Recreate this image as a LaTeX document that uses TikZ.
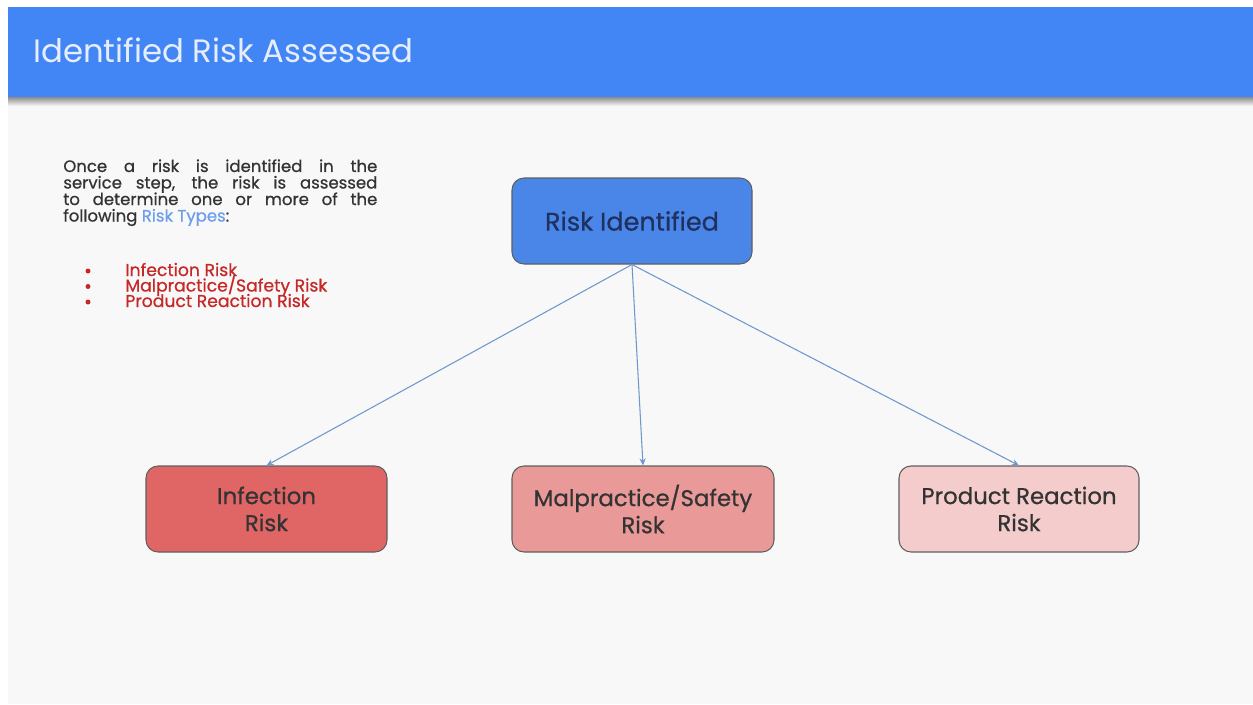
\documentclass[tikz,border=0pt]{standalone}
\usepackage{fontspec}
\setmainfont{Poppins}
\newfontfamily\medfont{Poppins}[FakeBold=0.7]
\usetikzlibrary{arrows.meta}

\definecolor{barblue}{HTML}{4285F4}
\definecolor{pagegray}{HTML}{F8F8F8}
\definecolor{titlewhite}{HTML}{E6EEFB}
\definecolor{bodytext}{HTML}{333333}
\definecolor{typeblue}{HTML}{6D9EEB}
\definecolor{itemred}{HTML}{C62828}
\definecolor{boxblue}{HTML}{4A86E8}
\definecolor{navytext}{HTML}{1F3160}
\definecolor{redA}{HTML}{E06666}
\definecolor{redB}{HTML}{EA9999}
\definecolor{redC}{HTML}{F4CCCC}
\definecolor{edgegray}{HTML}{5F5F5F}
\definecolor{arrowblue}{HTML}{6F97CF}

\tikzset{
  riskbox/.style={rectangle, rounded corners=0.24cm, draw=edgegray, line width=0.6pt,
    minimum height=1.72cm, align=center, text=bodytext,
    font=\medfont\fontsize{13}{15.4}\selectfont},
  riskarrow/.style={-{Stealth[length=4pt,width=3.5pt]}, draw=arrowblue, line width=0.6pt},
  redtext/.style={anchor=base west, text=itemred, inner sep=0pt,
    font=\medfont\fontsize{9.8}{9}\selectfont},
  reddot/.style={circle, fill=itemred, inner sep=0pt, minimum size=0.1cm}
}

\begin{document}
\begin{tikzpicture}

\useasboundingbox (0,0) rectangle (25.06,-14.08);
\fill [pagegray] (0.16,-0.14) rectangle (25.06,-14.08);
\shade [top color=black!45, bottom color=pagegray] (0.16,-1.94) rectangle (25.06,-2.12);
\fill [barblue] (0.16,-0.14) rectangle (25.06,-1.94);

\node [anchor=base west, inner sep=0pt, text=titlewhite, font=\fontsize{18.4}{20}\selectfont] (title) at (0.66,-1.24) {Identified Risk Assessed};

\node [anchor=north west, inner sep=0pt, text width=6.28cm, align=justify, text=bodytext,
  font={\medfont\fontsize{9.4}{9.4}\selectfont\setlength{\lineskiplimit}{-20pt}}] (intro) at (1.26,-3.18)
  {Once a risk is identified in the\linebreak service step, the risk is assessed\linebreak to determine one or more of the\linebreak following \textcolor{typeblue}{Risk Types}:};

\node [reddot] (dot1) at (1.76,-5.42) {};
\node [reddot] (dot2) at (1.76,-5.73) {};
\node [reddot] (dot3) at (1.76,-6.04) {};
\node [redtext] (item1) at (2.5,-5.52) {Infection Risk};
\node [redtext] (item2) at (2.5,-5.83) {Malpractice/Safety Risk};
\node [redtext] (item3) at (2.5,-6.14) {Product Reaction Risk};

\node [riskbox, fill=boxblue, minimum width=4.8cm, text=navytext, font=\medfont\fontsize{14.5}{16}\selectfont] (ri) at (12.64,-4.42) {Risk Identified};
\node [riskbox, fill=redA, minimum width=4.82cm] (inf) at (5.33,-10.18) {Infection\\Risk};
\node [riskbox, fill=redB, minimum width=5.24cm] (mal) at (12.86,-10.18) {Malpractice/Safety\\Risk};
\node [riskbox, fill=redC, minimum width=4.8cm] (prr) at (20.38,-10.18) {Product Reaction\\Risk};

\draw [riskarrow] (ri.south) -- (inf.north);
\draw [riskarrow] (ri.south) -- (mal.north);
\draw [riskarrow] (ri.south) -- (prr.north);

\end{tikzpicture}
\end{document}
